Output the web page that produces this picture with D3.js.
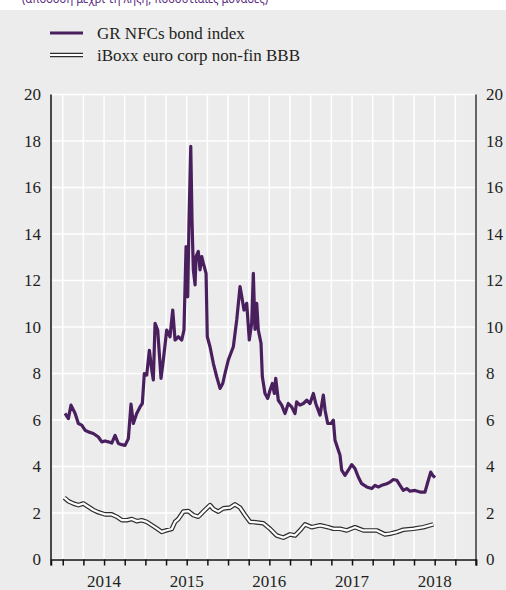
<!DOCTYPE html>
<html>
<head>
<meta charset="utf-8">
<script src="https://cdn.jsdelivr.net/npm/d3@7"></script>
<style>
  body { margin: 0; background: #fff; }
  svg { display: block; }
  text { font-family: "Liberation Serif", "Times New Roman", serif; fill: #231f20; }
</style>
</head>
<body>
<svg width="506" height="590"></svg>
<script>
var svg = d3.select("svg");
var W = 506, H = 590;

// series names
var seriesNames = ["GR NFCs bond index", "iBoxx euro corp non-fin BBB"];

// GR NFCs bond index: decimal year / yield (%)
var grTime = [2014.028,2014.068,2014.100,2014.149,2014.189,2014.230,2014.270,2014.310,2014.370,2014.431,
  2014.472,2014.512,2014.552,2014.593,2014.633,2014.673,2014.714,2014.754,2014.794,2014.826,
  2014.854,2014.895,2014.935,2014.963,2014.987,2015.016,2015.048,2015.077,2015.096,2015.117,
  2015.149,2015.189,2015.217,2015.258,2015.298,2015.331,2015.359,2015.398,2015.440,2015.467,
  2015.492,2015.512,2015.528,2015.549,2015.564,2015.580,2015.601,2015.613,2015.640,2015.661,
  2015.682,2015.701,2015.734,2015.749,2015.782,2015.822,2015.863,2015.903,2015.936,2015.963,
  2016.003,2016.064,2016.105,2016.145,2016.166,2016.193,2016.226,2016.257,2016.286,2016.306,
  2016.326,2016.347,2016.366,2016.399,2016.415,2016.447,2016.480,2016.508,2016.536,2016.560,
  2016.577,2016.608,2016.649,2016.689,2016.729,2016.770,2016.810,2016.830,2016.870,2016.911,
  2016.952,2016.992,2017.032,2017.061,2017.113,2017.153,2017.174,2017.206,2017.246,2017.274,
  2017.294,2017.355,2017.375,2017.415,2017.455,2017.496,2017.536,2017.576,2017.617,2017.678,
  2017.738,2017.778,2017.818,2017.859,2017.920,2017.960,2018.000,2018.041,2018.081,2018.120,
  2018.162,2018.202,2018.262,2018.323,2018.383,2018.411,2018.452,2018.476,2018.504];
var grValue = [6.28,6.06,6.64,6.29,5.85,5.78,5.56,5.49,5.42,5.27,
  5.06,5.10,5.06,5.01,5.34,4.99,4.94,4.91,5.20,6.68,
  5.85,6.28,6.56,6.71,8.00,7.93,9.00,8.15,7.72,10.16,
  9.87,7.79,8.58,9.87,9.58,10.73,9.44,9.58,9.44,9.87,
  13.46,11.30,14.60,17.77,14.60,12.46,11.81,13.03,13.25,12.46,
  13.03,12.75,12.31,9.58,9.15,8.44,7.86,7.36,7.57,8.00,
  8.58,9.15,10.30,11.74,11.31,10.73,11.02,9.44,10.16,12.31,
  9.90,11.02,9.87,9.30,7.86,7.14,6.93,7.28,7.57,7.14,
  7.79,6.85,6.64,6.28,6.71,6.56,6.28,6.78,6.64,6.71,
  6.85,6.71,7.14,6.71,6.21,7.07,6.42,5.85,5.85,5.99,
  5.13,4.48,3.84,3.62,3.84,4.08,3.91,3.55,3.26,3.12,
  3.05,3.19,3.12,3.19,3.26,3.33,3.44,3.41,3.19,2.97,
  3.05,2.94,2.97,2.90,2.90,3.26,3.76,3.62,3.52];

// iBoxx euro corp non-fin BBB: decimal year / yield (%)
var ibTime = [2014.019,2014.068,2014.128,2014.189,2014.249,2014.310,2014.370,2014.431,2014.512,2014.593,
  2014.653,2014.714,2014.774,2014.835,2014.895,2014.956,2015.016,2015.077,2015.137,2015.198,
  2015.258,2015.319,2015.359,2015.398,2015.459,2015.519,2015.580,2015.640,2015.701,2015.782,
  2015.822,2015.882,2015.943,2016.024,2016.084,2016.145,2016.206,2016.266,2016.306,2016.427,
  2016.508,2016.589,2016.669,2016.750,2016.810,2016.870,2016.931,2017.012,2017.113,2017.213,
  2017.274,2017.355,2017.436,2017.536,2017.637,2017.718,2017.799,2017.899,2017.960,2018.041,
  2018.120,2018.241,2018.362,2018.483];
var ibValue = [2.66,2.51,2.41,2.34,2.41,2.27,2.13,2.03,1.94,1.94,
  1.84,1.69,1.69,1.74,1.65,1.69,1.62,1.48,1.34,1.19,
  1.26,1.31,1.62,1.74,2.06,2.08,1.91,1.84,2.06,2.34,
  2.17,2.06,2.20,2.23,2.37,2.23,1.91,1.62,1.61,1.56,
  1.32,1.03,0.94,1.08,1.03,1.25,1.51,1.39,1.47,1.39,
  1.32,1.32,1.25,1.39,1.25,1.25,1.25,1.08,1.11,1.18,
  1.28,1.32,1.39,1.51];

var yTicks = [0, 2, 4, 6, 8, 10, 12, 14, 16, 18, 20];
var yearLabels = [2014, 2015, 2016, 2017, 2018];

var grData = grTime.map(function(t, i) { return [t, grValue[i]]; });
var ibData = ibTime.map(function(t, i) { return [t, ibValue[i]]; });

var purple = "#4a1f5e";

// background
svg.append("rect").attr("x", 0).attr("y", 0).attr("width", W).attr("height", H).attr("fill", "#fff");
svg.append("rect").attr("x", 0).attr("y", 10).attr("width", W).attr("height", H - 10).attr("fill", "#ececec");

// heading above the panel (only its lower part shows, as in the source)
svg.append("text")
  .attr("x", 22).attr("y", 3)
  .attr("textLength", 246).attr("lengthAdjust", "spacingAndGlyphs")
  .style("font-family", "'Noto Sans', sans-serif").style("font-size", "13px")
  .style("fill", "#5b2c82")
  .text("(απόδοση μέχρι τη λήξη, ποσοστιαίες μονάδες)");

var x = d3.scaleLinear().domain([2013.858, 2019.0]).range([51, 476]);
var y = d3.scaleLinear().domain([0, 20]).range([559.5, 94.5]);

// quarterly ticks
var qTicks = d3.range(2014, 2019.01, 0.25);

// grid
var grid = svg.append("g").attr("class", "grid");
grid.selectAll(".hg").data(yTicks).enter().append("line")
  .attr("x1", x.range()[0]).attr("x2", x.range()[1])
  .attr("y1", d => y(d)).attr("y2", d => y(d))
  .attr("stroke", "#fff").attr("stroke-width", 1.5);
grid.selectAll(".vg").data(qTicks).enter().append("line")
  .attr("x1", d => x(d)).attr("x2", d => x(d))
  .attr("y1", y(20)).attr("y2", y(0))
  .attr("stroke", "#fff").attr("stroke-width", 1.5);

// lines
var line = d3.line().x(d => x(d[0])).y(d => y(d[1])).curve(d3.curveLinear);

svg.append("path").attr("d", line(ibData))
  .attr("fill", "none").attr("stroke", "#2e2e2e").attr("stroke-width", 4.6)
  .attr("stroke-linejoin", "round");
svg.append("path").attr("d", line(ibData))
  .attr("fill", "none").attr("stroke", "#fff").attr("stroke-width", 2.2)
  .attr("stroke-linejoin", "round");

svg.append("path").attr("d", line(grData))
  .attr("fill", "none").attr("stroke", purple).attr("stroke-width", 3.2)
  .attr("stroke-linejoin", "round");

// axes
var yLeft = d3.axisLeft(y).tickValues(yTicks).tickSize(0).tickPadding(10).tickFormat(d3.format("d"));
var yRight = d3.axisRight(y).tickValues(yTicks).tickSize(0).tickPadding(10).tickFormat(d3.format("d"));

var gl = svg.append("g").attr("transform", "translate(" + x.range()[0] + ",0)").call(yLeft);
var gr = svg.append("g").attr("transform", "translate(" + x.range()[1] + ",0)").call(yRight);
[gl, gr].forEach(function(g) {
  g.select(".domain").remove();
  g.selectAll("text").style("font-family", "'Liberation Serif', serif").style("font-size", "17px").attr("fill", "#231f20");
});
svg.append("line").attr("x1", x.range()[0]).attr("x2", x.range()[0]).attr("y1", y(20)).attr("y2", y(0) + 6)
  .attr("stroke", "#111").attr("stroke-width", 1.5);
svg.append("line").attr("x1", x.range()[1]).attr("x2", x.range()[1]).attr("y1", y(20)).attr("y2", y(0) + 6)
  .attr("stroke", "#333").attr("stroke-width", 1.5);

var xAxis = d3.axisBottom(x).tickValues(qTicks).tickSize(6).tickFormat("");
var gx = svg.append("g").attr("transform", "translate(0," + y(0) + ")").call(xAxis);
gx.select(".domain").attr("stroke", "#111").attr("stroke-width", 1.5);
gx.selectAll(".tick line").attr("stroke", "#111").attr("stroke-width", 1.5);

svg.append("g").selectAll("text").data(yearLabels).enter().append("text")
  .attr("x", d => x(d + 0.5)).attr("y", 587)
  .attr("text-anchor", "middle").style("font-size", "17px")
  .text(d => d);

// legend
var legend = svg.append("g");
legend.append("line").attr("x1", 50).attr("x2", 83).attr("y1", 33).attr("y2", 33)
  .attr("stroke", purple).attr("stroke-width", 3);
legend.append("line").attr("x1", 50).attr("x2", 83).attr("y1", 55).attr("y2", 55)
  .attr("stroke", "#2e2e2e").attr("stroke-width", 4.4);
legend.append("line").attr("x1", 50).attr("x2", 83).attr("y1", 55).attr("y2", 55)
  .attr("stroke", "#fff").attr("stroke-width", 2);
legend.selectAll("text").data(seriesNames).enter().append("text")
  .attr("x", 97).attr("y", (d, i) => 39 + i * 22)
  .style("font-size", "17px")
  .text(d => d);
</script>
</body>
</html>
